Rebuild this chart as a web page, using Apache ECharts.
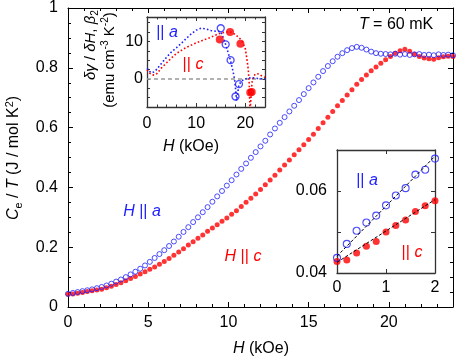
<!DOCTYPE html>
<html><head><meta charset="utf-8">
<script src="https://cdn.jsdelivr.net/npm/echarts@6/dist/echarts.min.js"></script>
<style>html,body{margin:0;padding:0;background:#fff}#c{width:457px;height:359px}</style>
</head><body><div id="c"></div>
<script>
const FONT = 'Liberation Sans, Arial, Helvetica, sans-serif';
const BLUE = '#1f1fff', RED = '#ff0000';

// ---- main panel: C_e/T vs H ----
const fieldH = [0,0.3,0.6,0.9,1.2,1.5,1.8,2.1,2.4,2.7,3,3.3,3.6,3.9,4.2,4.5,4.8,5.1,5.4,5.7,6,6.3,6.6,6.9,7.2,7.5,7.8,8.1,8.4,8.7,9,9.3,9.6,9.9,10.2,10.5,10.8,11.1,11.4,11.7,12,12.3,12.6,12.9,13.2,13.5,13.8,14.1,14.4,14.7,15,15.3,15.6,15.9,16.2,16.5,16.8,17.1,17.4,17.7,18,18.3,18.6,18.9,19.2,19.5,19.8,20.1,20.4,20.7,21,21.3,21.6,21.9,22.2,22.5,22.8,23.1,23.4,23.7,24];
const capA = [0.044,0.047,0.050,0.053,0.056,0.059,0.063,0.067,0.072,0.078,
  0.085,0.092,0.100,0.109,0.118,0.128,0.139,0.151,0.164,0.177,
  0.190,0.204,0.219,0.235,0.251,0.267,0.284,0.300,0.317,0.334,
  0.352,0.370,0.388,0.406,0.424,0.443,0.462,0.480,0.499,0.518,
  0.537,0.556,0.577,0.597,0.616,0.635,0.654,0.673,0.692,0.712,
  0.732,0.751,0.770,0.789,0.806,0.822,0.837,0.849,0.859,0.866,
  0.870,0.867,0.861,0.854,0.849,0.847,0.846,0.845,0.847,0.844,
  0.846,0.843,0.845,0.846,0.843,0.844,0.842,0.845,0.843,0.844,
  0.842];
const capC = [0.043,0.0435,0.046,0.0485,0.0515,0.054,0.0565,0.059,0.064,0.069,
  0.075,0.081,0.088,0.095,0.102,0.110,0.118,0.126,0.134,0.143,
  0.152,0.162,0.173,0.184,0.195,0.207,0.218,0.230,0.241,0.253,
  0.264,0.275,0.287,0.298,0.310,0.322,0.336,0.350,0.364,0.378,
  0.393,0.409,0.425,0.441,0.458,0.475,0.492,0.509,0.526,0.543,
  0.560,0.578,0.597,0.616,0.635,0.654,0.673,0.691,0.709,0.727,
  0.745,0.761,0.776,0.790,0.803,0.815,0.827,0.838,0.849,0.857,
  0.862,0.855,0.845,0.838,0.833,0.830,0.829,0.834,0.837,0.839,
  0.838];

// ---- upper inset: dgamma/dH, beta2 ----
const dA_H = [0,0.5,1,1.5,2,3,4,5,6,7,8,9,10,11,12,13,14,15,15.5,16,16.5,17,17.5,17.8,18.0,18.2,18.4,18.7,19.2,19.8,20.5,21.5,22.5,23.5,24];
const dA_V = [2.8,2.0,1.6,1.9,2.6,4.2,5.8,7.2,8.3,9.5,10.8,12.0,13.0,13.5,13.3,12.9,12.7,12.6,11.0,9.2,7.0,4.8,2.0,0.0,-2.5,-5.8,-4.2,-1.6,-0.6,-0.1,0.2,0.3,0.1,0.0,0.0];
const dC_H = [0,0.5,1,1.5,2,3,4,5,6,7,8,9,10,11,12,13,14,15,16,17,18,19,19.5,20,20.3,20.6,20.8,20.95,21.1,21.25,21.4,21.7,22.2,22.8,23.4,24];
const dC_V = [2.4,1.6,1.1,1.0,1.4,3.0,4.3,5.6,6.8,7.6,8.4,9.0,9.6,10.1,10.6,11.1,11.7,12.2,12.5,12.5,11.8,10.6,9.6,8.0,5.5,2.5,-1.5,-9,-9,-3,-0.5,0.8,1.4,1.3,0.7,0.4];
const bA_H = [15,16,17,18,18.7];
const bA_V = [13.5,9.2,5.0,-4.7,-1.4];
const bC_H = [14.8,16.9,19.0,21.0,21.3];
const bC_V = [10.5,12.5,9.4,-3.6,-3.5];
const zeroH = [0,24];
const zeroV = [0,0];

// ---- lower inset: low-field C_e/T ----
const lowH = [0,0.2,0.4,0.6,0.8,1.0,1.2,1.4,1.6,1.8,2.0];
const lowA = [0.0437,0.0471,0.0503,0.0523,0.0540,0.0565,0.0589,0.0607,0.0640,0.0652,0.0679];
const lowC = [0.0428,0.0432,0.0449,0.0465,0.0477,0.0500,0.0516,0.0529,0.0550,0.0564,0.0576];
const fitH = [0,2];
const fitA = [0.0441,0.0685];
const fitC = [0.0426,0.0579];

const xy = (xs, ys) => xs.map((x, i) => [x, ys[i]]);

function ax(o) {
  const a = {
    type: 'value', gridIndex: o.grid, position: o.pos, min: o.min, max: o.max, interval: o.interval,
    z: o.z || 0,
    axisLine: { show: o.line !== false, onZero: false, lineStyle: { color: o.lc || '#000', width: o.lw || 1 } },
    axisTick: { show: true, inside: true, length: o.tl, lineStyle: { color: o.lc || '#000', width: 1 } },
    splitLine: { show: false },
    axisLabel: o.labels ? Object.assign({ show: true, color: '#000', fontSize: 16, fontFamily: FONT, margin: o.margin }, o.labels) : { show: false }
  };
  if (o.minor) a.minorTick = { show: true, splitNumber: o.minor, length: o.ml, lineStyle: { color: o.lc || '#000', width: 1 } };
  return a;
}

const IC = '#333';
const xAxes = [
  ax({ grid: 0, pos: 'bottom', min: 0, max: 24, interval: 5, tl: 5, labels: { showMaxLabel: false }, margin: 8 }),
  ax({ grid: 0, pos: 'bottom', min: 0, max: 24, interval: 1, tl: 3, line: false }),
  ax({ grid: 0, pos: 'top', min: 0, max: 24, interval: 5, tl: 5 }),
  ax({ grid: 0, pos: 'top', min: 0, max: 24, interval: 1, tl: 3, line: false }),
  ax({ grid: 1, pos: 'bottom', min: 0, max: 24, interval: 10, tl: 4, z: 6, lc: IC, lw: 1.3, labels: { showMaxLabel: false }, margin: 9 }),
  ax({ grid: 1, pos: 'bottom', min: 0, max: 24, interval: 2, tl: 2.5, z: 6, lc: IC, line: false }),
  ax({ grid: 1, pos: 'top', min: 0, max: 24, interval: 10, tl: 4, z: 6, lc: IC, lw: 1.3 }),
  ax({ grid: 1, pos: 'top', min: 0, max: 24, interval: 2, tl: 2.5, z: 6, lc: IC, line: false }),
  ax({ grid: 2, pos: 'bottom', min: 0, max: 2, interval: 1, tl: 4, z: 6, lc: IC, lw: 1.3, labels: {}, margin: 7 }),
  ax({ grid: 2, pos: 'top', min: 0, max: 2, interval: 1, tl: 4, z: 6, lc: IC, lw: 1.3 })
];
const yAxes = [
  ax({ grid: 0, pos: 'left', min: 0, max: 1, interval: 0.2, tl: 5, minor: 4, ml: 3, labels: {}, margin: 10 }),
  ax({ grid: 0, pos: 'right', min: 0, max: 1, interval: 0.2, tl: 5, minor: 4, ml: 3 }),
  ax({ grid: 1, pos: 'left', min: -7.5, max: 16.5, interval: 2.5, tl: 3, z: 6, lc: IC, lw: 1.3,
       labels: { formatter: v => (Math.abs(v) < 1e-9 ? '0' : Math.abs(v - 10) < 1e-9 ? '10' : '') }, margin: 4 }),
  ax({ grid: 1, pos: 'right', min: -7.5, max: 16.5, interval: 2.5, tl: 3, z: 6, lc: IC, lw: 1.3 }),
  ax({ grid: 2, pos: 'left', min: 0.04, max: 0.07, interval: 0.01, tl: 4, z: 6, lc: IC, lw: 1.3,
       labels: { formatter: v => (Math.abs(v - 0.04) < 1e-9 ? '0.04' : Math.abs(v - 0.06) < 1e-9 ? '0.06' : '') }, margin: 10 }),
  ax({ grid: 2, pos: 'right', min: 0.04, max: 0.07, interval: 0.01, tl: 4, z: 6, lc: IC, lw: 1.3 })
];

const series = [
  { type: 'scatter', xAxisIndex: 0, yAxisIndex: 0, data: xy(fieldH, capC), symbol: 'circle', symbolSize: 5,
    itemStyle: { color: RED }, z: 2, silent: true },
  { type: 'scatter', xAxisIndex: 0, yAxisIndex: 0, data: xy(fieldH, capA), symbol: 'circle', symbolSize: 5,
    itemStyle: { color: 'rgba(0,0,0,0)', borderColor: BLUE, borderWidth: 1 }, z: 3, silent: true },
  // upper inset
  { type: 'line', xAxisIndex: 4, yAxisIndex: 2, data: xy(zeroH, zeroV), symbol: 'none', z: 7, silent: true,
    lineStyle: { color: '#999', width: 1.5, type: [4, 3] } },
  { type: 'line', xAxisIndex: 4, yAxisIndex: 2, data: xy(dC_H, dC_V), symbol: 'none', z: 8, silent: true,
    lineStyle: { color: RED, width: 1.6, type: [1.6, 2.2] } },
  { type: 'line', xAxisIndex: 4, yAxisIndex: 2, data: xy(dA_H, dA_V), symbol: 'none', z: 8, silent: true,
    lineStyle: { color: BLUE, width: 1.6, type: [1.6, 2.2] } },
  { type: 'scatter', xAxisIndex: 4, yAxisIndex: 2, data: xy(bC_H, bC_V), symbol: 'circle', symbolSize: 8,
    itemStyle: { color: RED }, z: 9, silent: true },
  { type: 'scatter', xAxisIndex: 4, yAxisIndex: 2, data: xy(bA_H, bA_V), symbol: 'circle', symbolSize: 7,
    itemStyle: { color: 'rgba(0,0,0,0)', borderColor: BLUE, borderWidth: 1.3 }, z: 9, silent: true },
  // lower inset
  { type: 'scatter', xAxisIndex: 8, yAxisIndex: 4, data: xy(lowH, lowC), symbol: 'circle', symbolSize: 7,
    itemStyle: { color: RED }, z: 8, silent: true },
  { type: 'scatter', xAxisIndex: 8, yAxisIndex: 4, data: xy(lowH, lowA), symbol: 'circle', symbolSize: 7,
    itemStyle: { color: 'rgba(0,0,0,0)', borderColor: BLUE, borderWidth: 1.1 }, z: 8, silent: true },
  { type: 'line', xAxisIndex: 8, yAxisIndex: 4, data: xy(fitH, fitA), symbol: 'none', z: 9, silent: true,
    lineStyle: { color: '#000', width: 1, type: [3, 2] } },
  { type: 'line', xAxisIndex: 8, yAxisIndex: 4, data: xy(fitH, fitC), symbol: 'none', z: 9, silent: true,
    lineStyle: { color: '#000', width: 1, type: [3, 2] } }
];

function tstyle(size, color, italic) {
  return { fontSize: size, fontFamily: FONT, fontStyle: italic ? 'italic' : 'normal', fill: color, lineHeight: size + 4 };
}
function richSet(size, color) {
  return {
    n: tstyle(size, color, false),
    i: tstyle(size, color, true),
    sup: { fontSize: size * 0.68, fontFamily: FONT, fontStyle: 'normal', fill: color, lineHeight: size * 0.7, verticalAlign: 'top' },
    sub: { fontSize: size * 0.68, fontFamily: FONT, fontStyle: 'normal', fill: color, lineHeight: size * 0.7, verticalAlign: 'bottom' }
  };
}
function label(x, y, text, size, color, rot) {
  return {
    type: 'text', x: x, y: y, rotation: rot || 0, z: 30, silent: true,
    style: Object.assign({}, tstyle(size, color, false), {
      text: text, rich: richSet(size, color),
      align: 'center', verticalAlign: 'middle', textAlign: 'center', textVerticalAlign: 'middle'
    })
  };
}

const graphics = [
  label(396, 25, '{i|T}{n| = 60 mK}', 16, '#000'),
  label(142, 212, '{i|H}{n| || }{i|a}', 16, BLUE),
  label(243, 257, '{i|H}{n| || }{i|c}', 16, RED),
  label(167, 33, '{n||| }{i|a}', 16, BLUE),
  label(193, 65, '{n||| }{i|c}', 16, RED),
  label(367, 181, '{n||| }{i|a}', 16, BLUE),
  label(412, 253, '{n||| }{i|c}', 16, RED),
  label(261, 349, '{i|H}{n| (kOe)}', 16, '#000'),
  label(14, 158, '{i|C}{sub|e}{n| / }{i|T}{n| (J / mol K}{sup|2}{n|)}', 16, '#000', Math.PI / 2),
  label(91, 45, '{i|δγ}{n| / }{i|δH}{n|, }{i|β}{sub|2}', 15, '#000', Math.PI / 2),
  label(110, 60, '{n|(emu cm}{sup|-3}{n| K}{sup|-2}{n|)}', 15, '#000', Math.PI / 2),
  label(191, 147, '{i|H}{n| (kOe)}', 16, '#000')
];

const chart = echarts.init(document.getElementById('c'), null, { renderer: 'canvas' });
chart.setOption({
  animation: false,
  backgroundColor: '#fff',
  textStyle: { fontFamily: FONT },
  grid: [
    { left: 68, right: 4, top: 7, bottom: 52, containLabel: false },
    { left: 147, right: 192, top: 17, bottom: 252, show: true, backgroundColor: '#fff', borderWidth: 0, z: 5 },
    { left: 337, right: 22, top: 150, bottom: 86, show: true, backgroundColor: '#fff', borderWidth: 0, z: 5 }
  ],
  xAxis: xAxes,
  yAxis: yAxes,
  series: series,
  graphic: graphics
});
</script></body></html>
